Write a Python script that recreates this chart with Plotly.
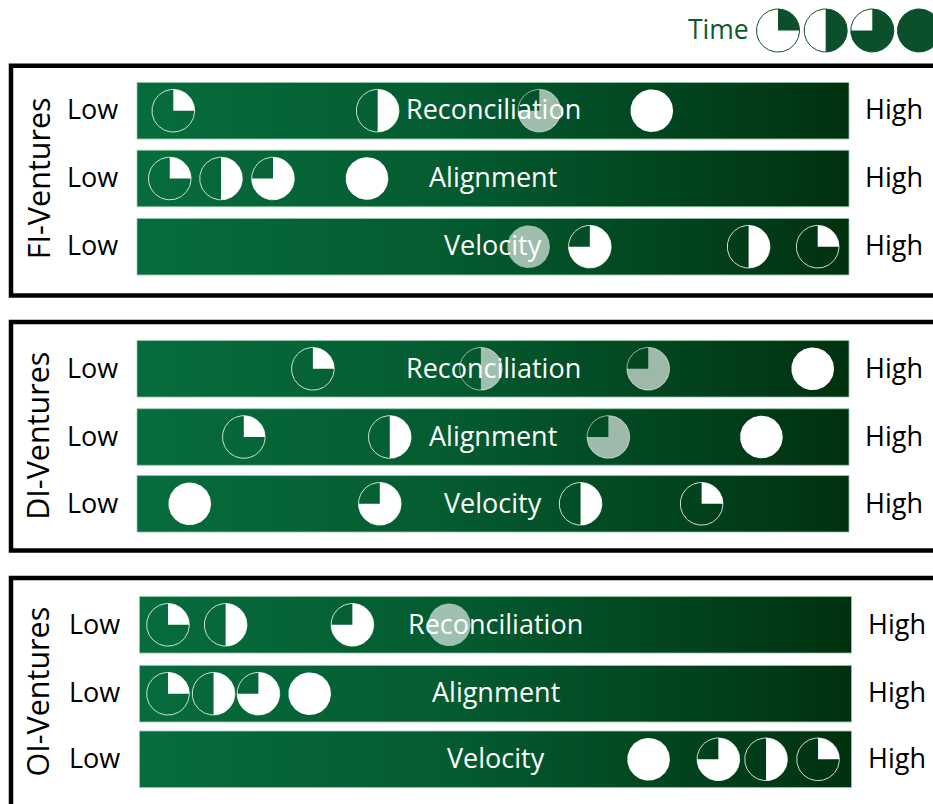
import numpy as np
import plotly.graph_objects as go

# ---------------- data ----------------
VENTURES = ["FI-Ventures", "DI-Ventures", "OI-Ventures"]
METRICS = ["Reconciliation", "Alignment", "Velocity"]
SCALE_LABELS = ["Low", "High"]
LEGEND_TITLE = "Time"
STAGE_FRACTIONS = [0.25, 0.5, 0.75, 1.0]   # Time stages T1..T4 (quarter -> full)

# position of each Time stage (T1..T4) on a 0 (Low) .. 10 (High) scale
FI_RECONCILIATION = [0.51, 3.38, 5.65, 7.23]
FI_ALIGNMENT = [0.46, 1.18, 1.91, 3.23]
FI_VELOCITY = [9.56, 8.59, 6.36, 5.50]
DI_RECONCILIATION = [2.47, 4.83, 7.18, 9.49]
DI_ALIGNMENT = [1.50, 3.55, 6.62, 8.77]
DI_VELOCITY = [7.93, 6.23, 3.41, 0.74]
OI_RECONCILIATION = [0.40, 1.21, 2.99, 4.35]
OI_ALIGNMENT = [0.40, 1.04, 1.67, 2.39]
OI_VELOCITY = [9.53, 8.80, 8.13, 7.15]

# faded (tentative) markers per stage
FI_RECONCILIATION_FADED = [False, False, True, False]
FI_ALIGNMENT_FADED = [False, False, False, False]
FI_VELOCITY_FADED = [False, False, False, True]
DI_RECONCILIATION_FADED = [False, True, True, False]
DI_ALIGNMENT_FADED = [False, False, True, False]
DI_VELOCITY_FADED = [False, False, False, False]
OI_RECONCILIATION_FADED = [False, False, False, True]
OI_ALIGNMENT_FADED = [False, False, False, False]
OI_VELOCITY_FADED = [False, False, False, False]

VALUES = [
    [FI_RECONCILIATION, FI_ALIGNMENT, FI_VELOCITY],
    [DI_RECONCILIATION, DI_ALIGNMENT, DI_VELOCITY],
    [OI_RECONCILIATION, OI_ALIGNMENT, OI_VELOCITY],
]
FADED = [
    [FI_RECONCILIATION_FADED, FI_ALIGNMENT_FADED, FI_VELOCITY_FADED],
    [DI_RECONCILIATION_FADED, DI_ALIGNMENT_FADED, DI_VELOCITY_FADED],
    [OI_RECONCILIATION_FADED, OI_ALIGNMENT_FADED, OI_VELOCITY_FADED],
]

# ---------------- layout / style ----------------
W, H = 933, 804
BAR_LEFT_PX, BAR_RIGHT_PX = 137, 849
PXU = (BAR_RIGHT_PX - BAR_LEFT_PX) / 10.0     # pixels per scale unit
SCALE_MAX = 10
ROW_Y = [[110.7, 178.5, 246.7], [368.8, 437.0, 503.8], [624.8, 693.7, 759.3]]
BOX_Y = [(65.8, 295.5), (322.0, 550.5), (578.0, 840.0)]
PANEL_SHIFT_PX = [0, 0, 2.5]
BAR_H = 56.5
R_PX = 21.3
TEXT_DY = -1.8
FONT = "Open Sans"
GREEN_DARK = "#0b4f2b"


def px2x(px):
    return (px - BAR_LEFT_PX) / PXU


def wedge(cx, cy, frac, r):
    n = max(3, int(96 * frac)) + 1
    th = np.linspace(0, 2 * np.pi * frac, n)
    xs = cx + r * np.sin(th) / PXU
    ys = cy - r * np.cos(th)
    if frac < 1:
        xs = np.concatenate([[cx], xs, [cx]])
        ys = np.concatenate([[cy], ys, [cy]])
    return xs, ys


fig = go.Figure()
shapes = []
annotations = []

for p, venture in enumerate(VENTURES):
    sh = PANEL_SHIFT_PX[p] / PXU
    y0, y1 = BOX_Y[p]
    shapes.append(dict(type="rect", xref="x", yref="y", x0=px2x(11), x1=px2x(980),
                       y0=y0, y1=y1, line=dict(color="black", width=4.5),
                       fillcolor="rgba(0,0,0,0)", layer="below"))
    annotations.append(dict(x=px2x(37.5), y=(ROW_Y[p][0] + ROW_Y[p][2]) / 2, xref="x", yref="y",
                            text=venture, textangle=-90, showarrow=False,
                            font=dict(family=FONT, size=30.5, color="black")))
    for m, metric in enumerate(METRICS):
        cy = ROW_Y[p][m]
        top, bot = cy - BAR_H / 2, cy + BAR_H / 2
        fig.add_trace(go.Scatter(
            x=[sh, SCALE_MAX + sh, SCALE_MAX + sh, sh, sh], y=[top, top, bot, bot, top],
            mode="lines", fill="toself",
            fillgradient=dict(type="horizontal",
                              colorscale=[[0, "#076c3d"], [0.45, "#045b30"], [1, "#00310f"]]),
            line=dict(color="rgba(150,200,170,0.8)", width=1),
            hoverinfo="skip", showlegend=False))
        annotations.append(dict(x=SCALE_MAX / 2 + sh, y=cy + TEXT_DY, xref="x", yref="y", text=metric,
                                showarrow=False, font=dict(family=FONT, size=27, color="white")))
        annotations.append(dict(x=px2x(92) + sh, y=cy + TEXT_DY, xref="x", yref="y", text=SCALE_LABELS[0],
                                showarrow=False, font=dict(family=FONT, size=27, color="black")))
        annotations.append(dict(x=px2x(894) + sh, y=cy + TEXT_DY, xref="x", yref="y", text=SCALE_LABELS[1],
                                showarrow=False, font=dict(family=FONT, size=27, color="black")))
        for s, frac in enumerate(STAGE_FRACTIONS):
            cx = VALUES[p][m][s] + sh
            faded = FADED[p][m][s]
            fill = "rgba(255,255,255,0.62)" if faded else "white"
            edge = "rgba(200,215,205,0.75)" if faded else "rgba(225,240,230,0.9)"
            if frac < 1:
                xs, ys = wedge(cx, cy, 1.0, R_PX)
                fig.add_trace(go.Scatter(x=xs, y=ys, mode="lines",
                                         line=dict(color=edge, width=1),
                                         hoverinfo="skip", showlegend=False))
            xs, ys = wedge(cx, cy, frac, R_PX)
            fig.add_trace(go.Scatter(x=xs, y=ys, mode="lines", fill="toself", fillcolor=fill,
                                     line=dict(width=0), hoverinfo="skip", showlegend=False))

# legend ("Time" key)
LEG_X_PX = [778, 825.7, 872.3, 919]
LEG_Y = 30.5
annotations.append(dict(x=px2x(718), y=LEG_Y + TEXT_DY, xref="x", yref="y", text=LEGEND_TITLE,
                        showarrow=False, font=dict(family=FONT, size=26.5, color="#0d5a32")))
for s, frac in enumerate(STAGE_FRACTIONS):
    cx = px2x(LEG_X_PX[s])
    xs, ys = wedge(cx, LEG_Y, 1.0, 21.5)
    fig.add_trace(go.Scatter(x=xs, y=ys, mode="lines", fill="toself", fillcolor="white",
                             line=dict(color=GREEN_DARK, width=1),
                             hoverinfo="skip", showlegend=False))
    xs, ys = wedge(cx, LEG_Y, frac, 21.5)
    fig.add_trace(go.Scatter(x=xs, y=ys, mode="lines", fill="toself", fillcolor=GREEN_DARK,
                             line=dict(width=0), hoverinfo="skip", showlegend=False))

fig.update_layout(
    width=W, height=H, margin=dict(l=0, r=0, t=0, b=0),
    paper_bgcolor="white", plot_bgcolor="white",
    xaxis=dict(range=[px2x(0), px2x(W)], visible=False, fixedrange=True),
    yaxis=dict(range=[H, 0], visible=False, fixedrange=True),
    shapes=shapes, annotations=annotations, showlegend=False,
)

fig.write_html("out.html", config={"displayModeBar": False},
               post_script="document.body.style.margin='0';document.body.style.overflow='hidden';")
